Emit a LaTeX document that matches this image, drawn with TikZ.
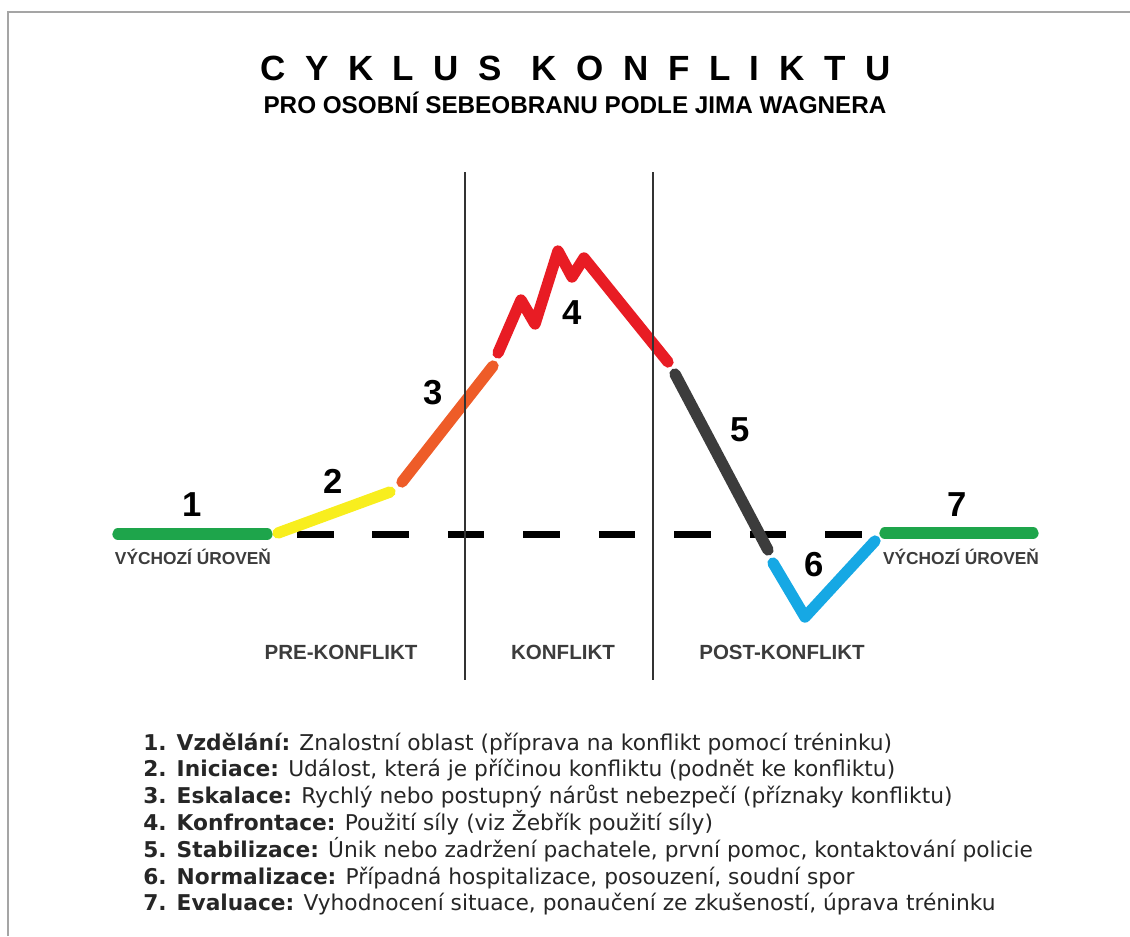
\documentclass[tikz,border=0pt]{standalone}
\usepackage{fontspec}
\setmainfont{Liberation Sans}
\newfontfamily\listfont{DejaVu Sans}
\usetikzlibrary{positioning}
\definecolor{ccGreen}{RGB}{30,165,75}
\definecolor{ccYellow}{RGB}{248,238,30}
\definecolor{ccOrange}{RGB}{238,92,40}
\definecolor{ccRed}{RGB}{232,28,36}
\definecolor{ccDark}{RGB}{60,60,60}
\definecolor{ccBlue}{RGB}{22,168,228}
\definecolor{ccFrame}{RGB}{165,165,165}

\begin{document}
\begin{tikzpicture}[x=0.75pt,y=-0.75pt,
  phase/.style={line width=8.5pt,line cap=round,line join=round},
  numlbl/.style={font=\fontsize{26}{26}\selectfont\bfseries,inner sep=0pt},
  baselbl/.style={font=\fontsize{13}{14}\selectfont\bfseries,text=ccDark,inner sep=0pt},
  seclbl/.style={font=\fontsize{15.4}{16}\selectfont\bfseries,text=ccDark,inner sep=0pt},
  divider/.style={line width=1.5pt,black!80},
  itemlbl/.style={font=\listfont\fontsize{16.3}{18}\selectfont,text=black!85,anchor=base west,inner sep=0pt}
]
\useasboundingbox (0,0) rectangle (1130,936);
\draw[ccFrame,line width=1.5pt] (8,936) -- (8,12) -- (1130,12);

% title
\node[anchor=base west,inner sep=0pt,font=\fontsize{26.25}{28}\selectfont\bfseries\addfontfeature{LetterSpace=56}] (title) at (260,80) {CYKLUS KONFLIKTU};
\node[anchor=base,inner sep=0pt,font=\fontsize{18.2}{20}\selectfont\bfseries] (subtitle) at (575,113) {PRO OSOBNÍ SEBEOBRANU PODLE JIMA WAGNERA};

% curve points
\coordinate (p1a) at (118,534); \coordinate (p1b) at (267,534);
\coordinate (p2a) at (278,533); \coordinate (p2b) at (390,492);
\coordinate (p3a) at (402,482); \coordinate (p3b) at (493,366);
\coordinate (p4a) at (498,353); \coordinate (p4b) at (668,362);
\coordinate (p5a) at (675,374); \coordinate (p5b) at (768,550);
\coordinate (p6a) at (773,563); \coordinate (p6b) at (875,541);
\coordinate (p7a) at (885,533); \coordinate (p7b) at (1033,533);
\coordinate (bla) at (297,534); \coordinate (blb) at (862,534);

% baseline
\draw[line width=5.25pt,dash pattern=on 27.4pt off 29.2pt] (bla) -- (blb);

% phases
\draw[phase,ccGreen] (p1a) -- (p1b);
\draw[phase,ccYellow] (p2a) -- (p2b);
\draw[phase,ccOrange] (p3a) -- (p3b);
\draw[phase,ccRed] (p4a) -- (521,300) -- (535,324) -- (558,251) -- (572,277) -- (584,258) -- (p4b);
\draw[phase,ccDark] (p5a) -- (p5b);
\draw[phase,ccBlue] (p6a) -- (805,617) -- (p6b);
\draw[phase,ccGreen] (p7a) -- (p7b);

% dividers
\coordinate (d1t) at (465,172); \coordinate (d1b) at (465,680);
\coordinate (d2t) at (653,172); \coordinate (d2b) at (653,680);
\draw[divider] (d1t) -- (d1b);
\draw[divider] (d2t) -- (d2b);

% phase numbers
\node[numlbl] (n1) at (192,505) {1};
\node[numlbl] (n2) at (333,481) {2};
\node[numlbl] (n3) at (433,393) {3};
\node[numlbl] (n4) at (572,313) {4};
\node[numlbl] (n5) at (740,430) {5};
\node[numlbl] (n6) at (814,565) {6};
\node[numlbl] (n7) at (957,505) {7};

\node[baselbl] (base1) at (193,557) {VÝCHOZÍ ÚROVEŇ};
\node[baselbl] (base7) at (961,557) {VÝCHOZÍ ÚROVEŇ};

\node[seclbl] (pre) at (341,652) {PRE-KONFLIKT};
\node[seclbl] (mid) at (563,652) {KONFLIKT};
\node[seclbl] (post) at (782,652) {POST-KONFLIKT};

% legend
\node[itemlbl] (i1) at (143,750) {\textbf{1. Vzdělání:} Znalostní oblast (příprava na konflikt pomocí tréninku)};
\node[itemlbl] (i2) at (143,776.8) {\textbf{2. Iniciace:} Událost, která je příčinou konfliktu (podnět ke konfliktu)};
\node[itemlbl] (i3) at (143,803.6) {\textbf{3. Eskalace:} Rychlý nebo postupný nárůst nebezpečí (příznaky konfliktu)};
\node[itemlbl] (i4) at (143,830.4) {\textbf{4. Konfrontace:} Použití síly (viz Žebřík použití síly)};
\node[itemlbl] (i5) at (143,857.2) {\textbf{5. Stabilizace:} Únik nebo zadržení pachatele, první pomoc, kontaktování policie};
\node[itemlbl] (i6) at (143,884) {\textbf{6. Normalizace:} Případná hospitalizace, posouzení, soudní spor};
\node[itemlbl] (i7) at (143,910.8) {\textbf{7. Evaluace:} Vyhodnocení situace, ponaučení ze zkušeností, úprava tréninku};
\end{tikzpicture}
\end{document}
